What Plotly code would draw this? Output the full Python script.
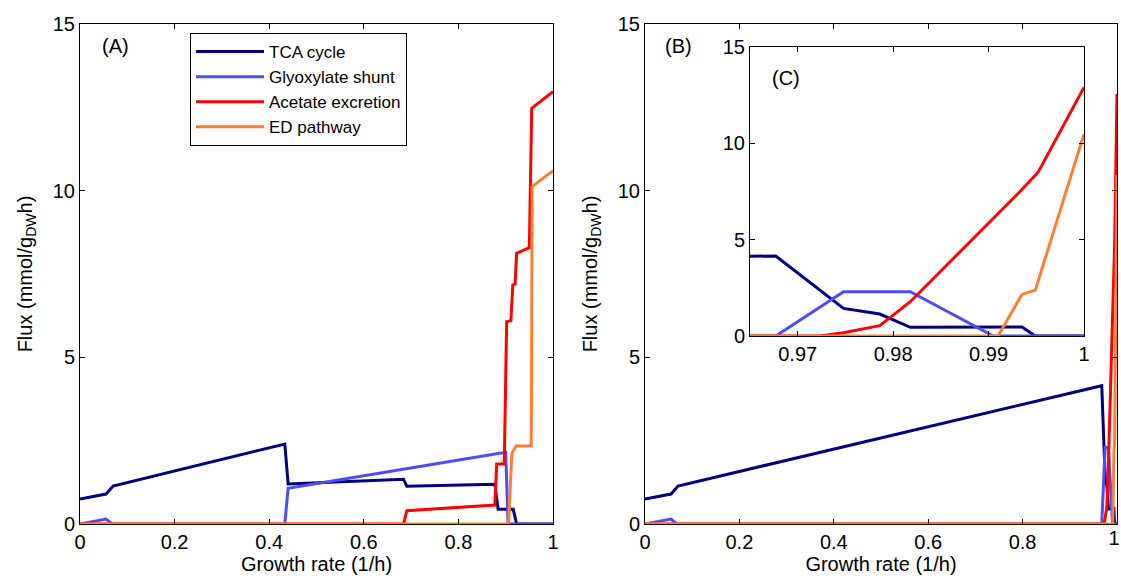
import plotly.graph_objects as go

# ---------------- Data ----------------
series_names = ["TCA cycle", "Glyoxylate shunt", "Acetate excretion", "ED pathway"]
series_colors = ["#000080", "#4d4dff", "#ff0000", "#ff8033"]

# Panel A
a_tca_x = [0, 0.055, 0.07, 0.433, 0.44, 0.684, 0.691, 0.877, 0.884, 0.916, 0.923, 1.0]
a_tca_y = [0.75, 0.9, 1.14, 2.4, 1.2, 1.34, 1.13, 1.19, 0.44, 0.44, 0.0, 0.0]
a_gly_x = [0, 0.055, 0.068, 0.433, 0.44, 0.9, 0.905, 1.0]
a_gly_y = [0, 0.15, 0.0, 0.0, 1.07, 2.15, 0.0, 0.0]
a_ace_x = [0, 0.684, 0.691, 0.877, 0.881, 0.897, 0.902, 0.911, 0.915, 0.92, 0.923, 0.95, 0.955, 1.0]
a_ace_y = [0, 0.0, 0.4, 0.57, 1.8, 1.8, 6.07, 6.1, 7.17, 7.2, 8.12, 8.29, 12.47, 12.97]
a_ed_x = [0, 0.906, 0.913, 0.922, 0.954, 0.956, 1.0]
a_ed_y = [0, 0.0, 2.12, 2.34, 2.34, 10.12, 10.6]

# Panel B (full range) and inset C (zoom 0.965 - 1)
b_tca_x = [0, 0.055, 0.07, 0.9677, 0.9748, 0.9786, 0.9818, 0.9935, 0.9949, 1.0]
b_tca_y = [0.75, 0.9, 1.14, 4.15, 1.43, 1.14, 0.45, 0.47, 0.0, 0.0]
b_gly_x = [0, 0.055, 0.068, 0.9677, 0.9748, 0.9818, 0.9905, 1.0]
b_gly_y = [0, 0.15, 0.0, 0.0, 2.3, 2.3, 0.0, 0.0]
b_ace_x = [0, 0.9723, 0.9748, 0.9786, 0.9818, 0.9912, 0.9933, 0.9952, 1.0]
b_ace_y = [0, 0.0, 0.17, 0.54, 1.78, 6.45, 7.5, 8.5, 12.9]
b_ed_x = [0, 0.991, 0.9935, 0.9949, 1.0]
b_ed_y = [0, 0.0, 2.16, 2.38, 10.47]

x_ticks_main = [0, 0.2, 0.4, 0.6, 0.8, 1]
x_ticklabels_main = ["0", "0.2", "0.4", "0.6", "0.8", "1"]
x_ticklabels_b = ["0", "0.2", "0.4", "0.6", "0.8", ""]   # "1" drawn by edge axis below
x_ticks_b_edge = [1]
x_ticklabels_b_edge = ["1"]
x_ticks_inset = [0.97, 0.98, 0.99, 1]
x_ticklabels_inset = ["0.97", "0.98", "0.99", "1"]
y_ticks = [0, 5, 10, 15]
y_ticklabels = ["0", "5", "10", "15"]

panel_labels = ["(A)", "(B)", "(C)"]
x_title = "Growth rate (1/h)"
y_title = "Flux (mmol/g<sub>DW</sub>h)"

# ---------------- Figure ----------------
W, H = 1121, 578
FONT = "Liberation Sans, Arial, Helvetica, sans-serif"
TICK_SIZE = 20
TITLE_SIZE = 20

fig = go.Figure()

panelA = [(a_tca_x, a_tca_y), (a_gly_x, a_gly_y), (a_ace_x, a_ace_y), (a_ed_x, a_ed_y)]
panelB = [(b_tca_x, b_tca_y), (b_gly_x, b_gly_y), (b_ace_x, b_ace_y), (b_ed_x, b_ed_y)]

for i, (xs, ys) in enumerate(panelA):
    fig.add_trace(go.Scatter(x=xs, y=ys, mode="lines", name=series_names[i],
                             line=dict(color=series_colors[i], width=3),
                             xaxis="x", yaxis="y", showlegend=True))
for i, (xs, ys) in enumerate(panelB):
    fig.add_trace(go.Scatter(x=xs, y=ys, mode="lines", name=series_names[i],
                             line=dict(color=series_colors[i], width=3),
                             xaxis="x2", yaxis="y2", showlegend=False))
for i, (xs, ys) in enumerate(panelB):
    fig.add_trace(go.Scatter(x=xs, y=ys, mode="lines", name=series_names[i],
                             line=dict(color=series_colors[i], width=3),
                             xaxis="x3", yaxis="y3", showlegend=False))
# empty trace so the edge-label axis (x4) is instantiated
fig.add_trace(go.Scatter(x=[], y=[], mode="lines", xaxis="x4", yaxis="y2",
                         showlegend=False, hoverinfo="skip"))

def px_x(p):
    return p / W

def px_y(p):
    return 1 - p / H

axis_common = dict(showline=True, linecolor="black", linewidth=1, mirror="ticks",
                   ticks="inside", ticklen=5, tickcolor="black", showgrid=False,
                   zeroline=False, automargin=False, ticklabeloverflow="allow",
                   tickfont=dict(family=FONT, size=TICK_SIZE, color="black"))

ydom = [px_y(524), px_y(24)]
xdomB = [px_x(645), px_x(1117)]

fig.update_layout(
    width=W, height=H,
    margin=dict(l=0, r=0, t=0, b=0),
    paper_bgcolor="white", plot_bgcolor="white",
    font=dict(family=FONT, color="black"),
    xaxis=dict(domain=[px_x(80), px_x(553)], range=[0, 1], anchor="y",
               tickvals=x_ticks_main, ticktext=x_ticklabels_main,
               title=dict(text=x_title, font=dict(family=FONT, size=TITLE_SIZE), standoff=2),
               **axis_common),
    yaxis=dict(domain=ydom, range=[0, 15], anchor="x",
               tickvals=y_ticks, ticktext=y_ticklabels,
               title=dict(text=y_title, font=dict(family=FONT, size=TITLE_SIZE), standoff=14),
               **axis_common),
    xaxis2=dict(domain=xdomB, range=[0, 1], anchor="y2",
                tickvals=x_ticks_main, ticktext=x_ticklabels_b,
                title=dict(text=x_title, font=dict(family=FONT, size=TITLE_SIZE), standoff=2),
                **axis_common),
    xaxis4=dict(domain=xdomB, range=[0, 1], anchor="y2", overlaying="x2", side="bottom",
                tickvals=x_ticks_b_edge, ticktext=x_ticklabels_b_edge,
                ticks="", showline=False, showgrid=False, zeroline=False,
                automargin=False, ticklabeloverflow="allow", ticklabelshift=-3,
                tickfont=dict(family=FONT, size=TICK_SIZE, color="black")),
    yaxis2=dict(domain=ydom, range=[0, 15], anchor="x2",
                tickvals=y_ticks, ticktext=y_ticklabels,
                title=dict(text=y_title, font=dict(family=FONT, size=TITLE_SIZE), standoff=14),
                **axis_common),
    xaxis3=dict(domain=[px_x(750), px_x(1084)], range=[0.965, 1], anchor="y3",
                tickvals=x_ticks_inset, ticktext=x_ticklabels_inset,
                **axis_common),
    yaxis3=dict(domain=[px_y(336), px_y(47)], range=[0, 15], anchor="x3",
                tickvals=y_ticks, ticktext=y_ticklabels,
                **axis_common),
    legend=dict(x=px_x(190), y=px_y(33), xanchor="left", yanchor="top",
                bgcolor="white", bordercolor="black", borderwidth=1,
                font=dict(family=FONT, size=17, color="black"),
                itemwidth=68, tracegroupgap=0),
    showlegend=True,
)

fig.add_annotation(text=panel_labels[0], xref="x domain", yref="y domain",
                   x=0.076, y=0.956, xanchor="center", yanchor="middle",
                   showarrow=False, font=dict(family=FONT, size=20))
fig.add_annotation(text=panel_labels[1], xref="x2 domain", yref="y2 domain",
                   x=0.07, y=0.956, xanchor="center", yanchor="middle",
                   showarrow=False, font=dict(family=FONT, size=20))
fig.add_annotation(text=panel_labels[2], xref="x3 domain", yref="y3 domain",
                   x=0.108, y=0.894, xanchor="center", yanchor="middle",
                   showarrow=False, font=dict(family=FONT, size=20))

fig.write_html("out.html")
